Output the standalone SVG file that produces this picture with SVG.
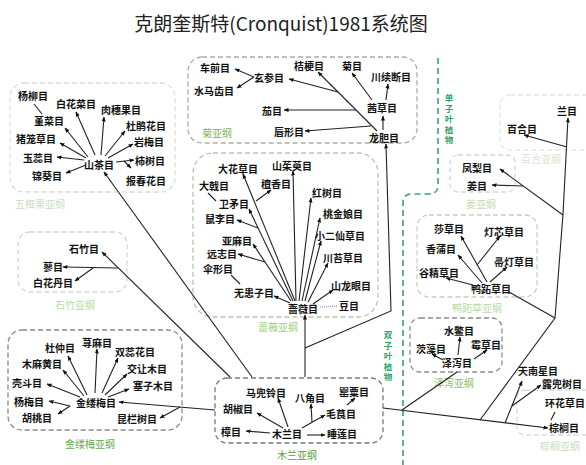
<svg xmlns="http://www.w3.org/2000/svg" width="586" height="465" viewBox="0 0 586 465">
<style>
text{font-family:"Noto Sans CJK SC","Noto Sans",sans-serif;}
.n{font-size:10px;font-weight:bold;fill:#111;text-anchor:middle;dominant-baseline:central;}
.lb{font-size:10px;text-anchor:middle;dominant-baseline:central;}
.bx{fill:none;stroke-dasharray:5 3;stroke-width:1.3;}
.c path{fill:none;stroke:#222;stroke-width:1.1;}
.c .ar{marker-end:url(#a);}
.v{font-size:8.5px;fill:#2fa36b;text-anchor:middle;dominant-baseline:central;font-weight:bold;}
</style>
<defs>
<marker id="a" viewBox="0 0 10 10" refX="9" refY="5" markerWidth="5" markerHeight="5" markerUnits="userSpaceOnUse" orient="auto"><path d="M0,1 L10,5 L0,9 z" fill="#111"/></marker>
</defs>
<rect width="586" height="465" fill="#fff"/>
<text x="281" y="22" font-size="19" fill="#222" text-anchor="middle" dominant-baseline="central">克朗奎斯特(Cronquist)1981系统图</text>

<path d="M438,58 V185 Q438,194 429,194 H412 Q403,194 403,203 V465" fill="none" stroke="#3a9e86" stroke-width="1.6" stroke-dasharray="6 4"/>
<text class="v"><tspan x="449" y="97">单</tspan><tspan x="449" y="107.5">子</tspan><tspan x="449" y="118">叶</tspan><tspan x="449" y="128.5">植</tspan><tspan x="449" y="139">物</tspan></text>
<text class="v"><tspan x="388" y="334">双</tspan><tspan x="388" y="344.5">子</tspan><tspan x="388" y="355">叶</tspan><tspan x="388" y="365.5">植</tspan><tspan x="388" y="376">物</tspan></text>

<g id="g-wuyaguo"><rect class="bx" x="10" y="83" width="165" height="109" rx="14" stroke="#dcdfd8"/><text class="lb" x="40" y="203" fill="#c9dfbf">五桠果亚纲</text></g>
<g id="g-ju"><rect class="bx" x="188" y="57" width="229" height="86" rx="14" stroke="#a6b39c"/><text class="lb" x="217" y="132" fill="#7cb85a">菊亚纲</text></g>
<g id="g-qiangwei"><rect class="bx" x="193" y="153" width="185" height="164" rx="20" stroke="#b9c4ae"/><text class="lb" x="278" y="326" fill="#9ccf7e">蔷薇亚纲</text></g>
<g id="g-shizhu"><rect class="bx" x="18" y="232" width="109" height="60" rx="12" stroke="#d3d8cf"/><text class="lb" x="75" y="304" fill="#b8dca6">石竹亚纲</text></g>
<g id="g-jinlvmei"><rect class="bx" x="8" y="330" width="174" height="100" rx="14" stroke="#8a8a8a"/><text class="lb" x="90" y="443" fill="#6aa84f">金缕梅亚纲</text></g>
<g id="g-mulan"><rect class="bx" x="215" y="378" width="168" height="65" rx="12" stroke="#7a7a7a"/><text class="lb" x="297" y="454" fill="#5c9e3a">木兰亚纲</text></g>
<g id="g-baihe"><rect class="bx" x="500" y="95" width="100" height="55" rx="10" stroke="#e3e6e0"/><text class="lb" x="541" y="158" fill="#d6e7cd">百合亚纲</text></g>
<g id="g-jiang"><rect class="bx" x="450" y="155" width="65" height="37" rx="8" stroke="#d6d9d2"/><text class="lb" x="481" y="203" fill="#c2dcb4">姜亚纲</text></g>
<g id="g-yazhicao"><rect class="bx" x="417" y="215" width="120" height="82" rx="12" stroke="#c9cec4"/><text class="lb" x="477" y="307" fill="#b9d9a8">鸭跖草亚纲</text></g>
<g id="g-zexie"><rect class="bx" x="410" y="318" width="92" height="54" rx="10" stroke="#8c8c8c"/><text class="lb" x="454" y="382" fill="#88c060">泽泻亚纲</text></g>
<g id="g-zonglv"><rect class="bx" x="517" y="390" width="80" height="45" rx="8" stroke="#dadcd6"/><text class="lb" x="560" y="445" fill="#c9e0bd">棕榈亚纲</text></g>

<g class="c" id="connectors">
<path class="ar" d="M88,157 L65,128"/>
<path d="M42,114 L34,104"/>
<path class="ar" d="M95,155 L76,112"/>
<path class="ar" d="M101,155 L104,117"/>
<path class="ar" d="M105,156 L125,131"/>
<path class="ar" d="M108,158 L133,144"/>
<path class="ar" d="M116,162 L134,160"/>
<path class="ar" d="M124,161 L131,168"/>
<path class="ar" d="M86,158 L60,143"/>
<path class="ar" d="M84,160 L57,157"/>
<path class="ar" d="M86,165 L66,173"/>
<path class="ar" d="M252,377 L104,172"/>
<path class="ar" d="M230,377 L102,252"/>
<path class="ar" d="M118,268 L63,267"/>
<path class="ar" d="M93,268 L75,281"/>

<path class="ar" d="M377,131 L318,72"/>
<path class="ar" d="M338,92 L289,79"/>
<path class="ar" d="M254,77 L235,69"/>
<path class="ar" d="M254,77 L237,88"/>
<path class="ar" d="M356,110 L284,110"/>
<path class="ar" d="M371,126 L305,131"/>
<path class="ar" d="M383,130 L383,116"/>
<path class="ar" d="M386,100 L388,84"/>
<path class="ar" d="M372,100 L352,73"/>
<path class="ar" d="M305,348 L391,311 L386,144"/>

<path class="ar" d="M305,377 L305,315"/>
<path class="ar" d="M295,301 L243,174"/>
<path class="ar" d="M256,201 L271,190"/>
<path class="ar" d="M293,301 L249,209"/>
<path class="ar" d="M258,228 L237,220"/>
<path class="ar" d="M291,301 L253,244"/>
<path class="ar" d="M265,262 L238,254"/>
<path class="ar" d="M290,303 L274,296"/>
<path d="M231,275 L240,284"/>
<path d="M208,193 L216,201"/>
<path class="ar" d="M296,301 L293,171"/>
<path class="ar" d="M299,301 L311,198"/>
<path class="ar" d="M302,301 L320,218"/>
<path class="ar" d="M305,301 L321,241"/>
<path class="ar" d="M308,302 L328,263"/>
<path class="ar" d="M313,304 L333,290"/>
<path d="M320,307 L338,306" style="stroke:#8a93b0;stroke-dasharray:1 1"/>

<path class="ar" d="M87,395 L68,356"/>
<path class="ar" d="M95,393 L97,349"/>
<path class="ar" d="M102,393 L118,358"/>
<path class="ar" d="M84,396 L63,370"/>
<path class="ar" d="M105,395 L127,374"/>
<path class="ar" d="M80,397 L47,384"/>
<path class="ar" d="M108,397 L129,389"/>
<path class="ar" d="M70,406 L49,401"/>
<path class="ar" d="M70,406 L58,414"/>
<path class="ar" d="M215,410 L119,402"/>
<path class="ar" d="M180,407 L160,418"/>

<path class="ar" d="M288,427 L278,398"/>
<path class="ar" d="M283,428 L257,413"/>
<path class="ar" d="M270,433 L246,431"/>
<path class="ar" d="M307,435 L325,435"/>
<path class="ar" d="M302,428 L325,415"/>
<path class="ar" d="M312,422 L311,404"/>
<path class="ar" d="M347,405 L355,398"/>

<path class="ar" d="M383,408 L548,428"/>
<path d="M402,410 L457,372"/>
<path class="ar" d="M458,355 L460,337"/>
<path class="ar" d="M443,360 L432,354"/>
<path class="ar" d="M474,359 L487,350"/>
<path class="ar" d="M480,420 L555,318 L563,214 L568,118"/>
<path class="ar" d="M567,147 L524,135"/>
<path class="ar" d="M563,215 L500,169"/>
<path class="ar" d="M523,186 L492,185"/>
<path d="M555,318 L509,292"/>
<path class="ar" d="M487,282 L461,236"/>
<path class="ar" d="M477,265 L500,236"/>
<path class="ar" d="M482,283 L458,255"/>
<path class="ar" d="M490,282 L507,267"/>
<path class="ar" d="M473,285 L446,278"/>
<path class="ar" d="M505,423 L522,381"/>
<path class="ar" d="M512,406 L541,385"/>
<path d="M551,420 L555,412"/>
</g>

<g id="n-yangliu"><text class="n" x="33" y="95">杨柳目</text></g>
<g id="n-baihuacai"><text class="n" x="76" y="103">白花菜目</text></g>
<g id="n-rousuiguo"><text class="n" x="121" y="109">肉穗果目</text></g>
<g id="n-jincai"><text class="n" x="49" y="120">堇菜目</text></g>
<g id="n-dujuanhua"><text class="n" x="146" y="125">杜鹃花目</text></g>
<g id="n-zhulongcao"><text class="n" x="36" y="138">猪笼草目</text></g>
<g id="n-yanmei"><text class="n" x="149" y="141">岩梅目</text></g>
<g id="n-yurui"><text class="n" x="38" y="157">玉蕊目</text></g>
<g id="n-shancha"><text class="n" x="99" y="164">山茶目</text></g>
<g id="n-shishu"><text class="n" x="150" y="160">柿树目</text></g>
<g id="n-jinkui"><text class="n" x="47" y="175">锦葵目</text></g>
<g id="n-baochunhua"><text class="n" x="146" y="180">报春花目</text></g>

<g id="n-shizhu"><text class="n" x="84" y="248">石竹目</text></g>
<g id="n-liao"><text class="n" x="53" y="266">蓼目</text></g>
<g id="n-baihuadan"><text class="n" x="53" y="282">白花丹目</text></g>

<g id="n-cheqian"><text class="n" x="215" y="67">车前目</text></g>
<g id="n-shuimachi"><text class="n" x="214" y="90">水马齿目</text></g>
<g id="n-xuanshen"><text class="n" x="269" y="77">玄参目</text></g>
<g id="n-jiegeng"><text class="n" x="309" y="65">桔梗目</text></g>
<g id="n-ju"><text class="n" x="352" y="65">菊目</text></g>
<g id="n-chuanxuduan"><text class="n" x="391" y="76">川续断目</text></g>
<g id="n-qie"><text class="n" x="272" y="110">茄目</text></g>
<g id="n-qiancao"><text class="n" x="382" y="107">茜草目</text></g>
<g id="n-chunxing"><text class="n" x="289" y="131">唇形目</text></g>
<g id="n-longdan"><text class="n" x="384" y="137">龙胆目</text></g>

<g id="n-dahuacao"><text class="n" x="238" y="168">大花草目</text></g>
<g id="n-shanzhuyu"><text class="n" x="292" y="165">山茱萸目</text></g>
<g id="n-tanxiang"><text class="n" x="276" y="183">檀香目</text></g>
<g id="n-daji"><text class="n" x="214" y="185">大戟目</text></g>
<g id="n-hongshu"><text class="n" x="327" y="192">红树目</text></g>
<g id="n-weimao"><text class="n" x="234" y="203">卫矛目</text></g>
<g id="n-shuli"><text class="n" x="220" y="218">鼠李目</text></g>
<g id="n-taojinniang"><text class="n" x="343" y="213">桃金娘目</text></g>
<g id="n-xiaoerxiancao"><text class="n" x="340" y="235">小二仙草目</text></g>
<g id="n-yama"><text class="n" x="237" y="240">亚麻目</text></g>
<g id="n-yuanzhi"><text class="n" x="222" y="253">远志目</text></g>
<g id="n-chuantaicao"><text class="n" x="343" y="257">川苔草目</text></g>
<g id="n-sanxing"><text class="n" x="218" y="268">伞形目</text></g>
<g id="n-wuhuanzi"><text class="n" x="254" y="292">无患子目</text></g>
<g id="n-shanlongyan"><text class="n" x="351" y="285">山龙眼目</text></g>
<g id="n-qiangwei"><text class="n" x="303" y="308">蔷薇目</text></g>
<g id="n-dou"><text class="n" x="349" y="305">豆目</text></g>

<g id="n-duzhong"><text class="n" x="60" y="347">杜仲目</text></g>
<g id="n-qianma"><text class="n" x="97" y="342">荨麻目</text></g>
<g id="n-shuangruihua"><text class="n" x="135" y="351">双蕊花目</text></g>
<g id="n-mumahuang"><text class="n" x="42" y="363">木麻黄目</text></g>
<g id="n-jiaorangmu"><text class="n" x="147" y="368">交让木目</text></g>
<g id="n-kedou"><text class="n" x="27" y="382">壳斗目</text></g>
<g id="n-saizimu"><text class="n" x="153" y="385">塞子木目</text></g>
<g id="n-yangmei"><text class="n" x="29" y="401">杨梅目</text></g>
<g id="n-jinlvmei"><text class="n" x="96" y="402">金缕梅目</text></g>
<g id="n-hutao"><text class="n" x="37" y="417">胡桃目</text></g>
<g id="n-kunlanshu"><text class="n" x="137" y="418">昆栏树目</text></g>

<g id="n-madouling"><text class="n" x="266" y="392">马兜铃目</text></g>
<g id="n-bajiao"><text class="n" x="310" y="397">八角目</text></g>
<g id="n-yingsu"><text class="n" x="354" y="391">罂粟目</text></g>
<g id="n-hujiao"><text class="n" x="238" y="408">胡椒目</text></g>
<g id="n-maogen"><text class="n" x="341" y="413">毛茛目</text></g>
<g id="n-zhang"><text class="n" x="231" y="431">樟目</text></g>
<g id="n-mulan"><text class="n" x="287" y="433">木兰目</text></g>
<g id="n-shuilian"><text class="n" x="342" y="433">睡莲目</text></g>

<g id="n-lan"><text class="n" x="567" y="110">兰目</text></g>
<g id="n-baihe"><text class="n" x="522" y="128">百合目</text></g>
<g id="n-fengli"><text class="n" x="477" y="167">凤梨目</text></g>
<g id="n-jiang"><text class="n" x="477" y="185">姜目</text></g>
<g id="n-shacao"><text class="n" x="449" y="228">莎草目</text></g>
<g id="n-dengxincao"><text class="n" x="504" y="231">灯芯草目</text></g>
<g id="n-xiangpu"><text class="n" x="441" y="248">香蒲目</text></g>
<g id="n-zhoudengcao"><text class="n" x="514" y="261">帚灯草目</text></g>
<g id="n-gujingcao"><text class="n" x="439" y="272">谷精草目</text></g>
<g id="n-yazhicao"><text class="n" x="491" y="288">鸭跖草目</text></g>
<g id="n-shuibie"><text class="n" x="459" y="330">水鳖目</text></g>
<g id="n-cizao"><text class="n" x="431" y="348">茨藻目</text></g>
<g id="n-meicao"><text class="n" x="486" y="344">霉草目</text></g>
<g id="n-zexie"><text class="n" x="457" y="362">泽泻目</text></g>
<g id="n-tiannanxing"><text class="n" x="538" y="370">天南星目</text></g>
<g id="n-loudoushu"><text class="n" x="562" y="383">露兜树目</text></g>
<g id="n-huanhuacao"><text class="n" x="565" y="402">环花草目</text></g>
<g id="n-zonglv"><text class="n" x="564" y="427">棕榈目</text></g>
</svg>
